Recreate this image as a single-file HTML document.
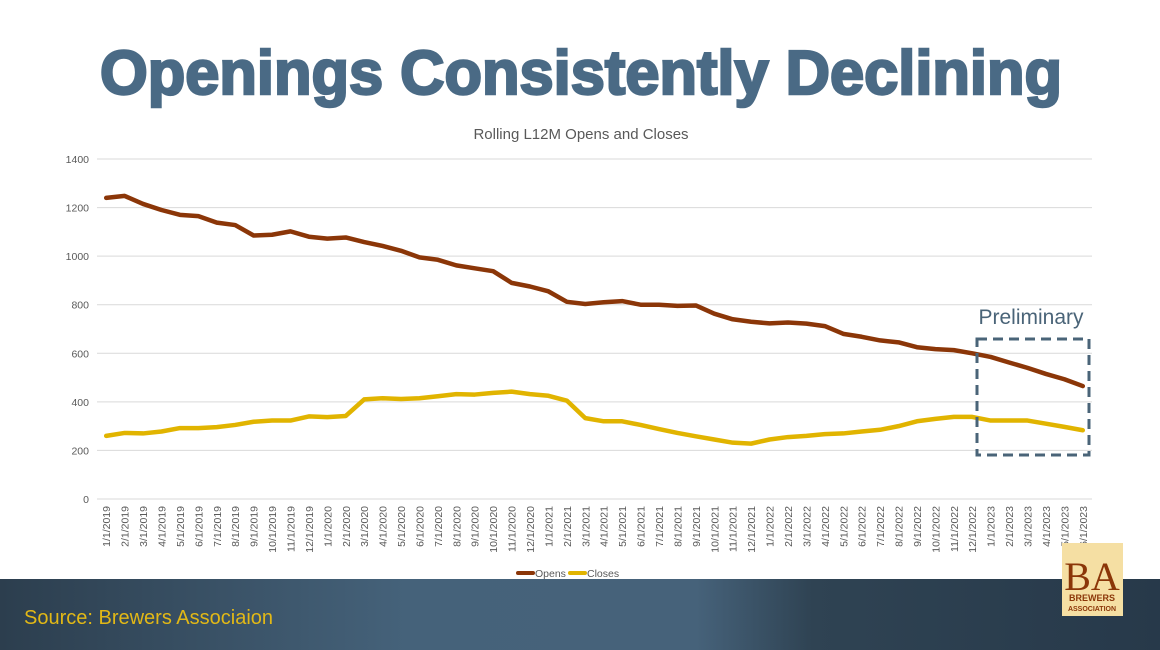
<!DOCTYPE html>
<html><head><meta charset="utf-8"><style>
html,body{margin:0;padding:0;background:#fff;}
svg{display:block;font-family:"Liberation Sans",Arial,sans-serif;}
</style></head><body>
<svg width="1160" height="650" viewBox="0 0 1160 650">
<defs>
<linearGradient id="bg" x1="0" x2="1" y1="0" y2="0">
<stop offset="0" stop-color="#2c3e4e"/><stop offset="0.35" stop-color="#45627a"/><stop offset="0.6" stop-color="#46627a"/><stop offset="0.7" stop-color="#2f4353"/><stop offset="1" stop-color="#27394a"/>
</linearGradient>
</defs>
<text x="581" y="94" text-anchor="middle" font-size="62" font-weight="900" fill="#4a6a85" stroke="#4a6a85" stroke-width="2.5" textLength="962" lengthAdjust="spacingAndGlyphs">Openings Consistently Declining</text>
<text x="581" y="139" text-anchor="middle" font-size="15" fill="#595959">Rolling L12M Opens and Closes</text>
<g id="grid"></g>
<g id="yt"></g>
<g id="xt"></g>
<g id="series"></g>
<rect x="977" y="339" width="112" height="116" fill="none" stroke="#4a6478" stroke-width="3" stroke-dasharray="10,6"/>
<text x="1031" y="324" text-anchor="middle" font-size="21" fill="#4a6478">Preliminary</text>
<g>
<line x1="518" y1="573" x2="533" y2="573" stroke="#8b3608" stroke-width="4" stroke-linecap="round"/>
<text x="535" y="577" font-size="10.5" fill="#595959">Opens</text>
<line x1="570" y1="573" x2="585" y2="573" stroke="#e1b400" stroke-width="4" stroke-linecap="round"/>
<text x="587" y="577" font-size="10.5" fill="#595959">Closes</text>
</g>
<rect x="0" y="579" width="1160" height="71" fill="url(#bg)"/>
<text x="24" y="624" font-size="20" fill="#e2b816">Source: Brewers Associaion</text>
<g>
<rect x="1062" y="543" width="61" height="73" fill="#f5dfa3"/>
<text x="1092" y="590" text-anchor="middle" font-size="40" font-family="Liberation Serif,serif" fill="#8b3608">BA</text>
<text x="1092" y="601" text-anchor="middle" font-size="9" font-weight="bold" fill="#8b3608">BREWERS</text>
<text x="1092" y="611" text-anchor="middle" font-size="7" font-weight="bold" fill="#8b3608">ASSOCIATION</text>
</g>
</svg>
<script>
const months = [];
for (let y = 2019; y <= 2023; y++) for (let m = 1; m <= 12; m++) { if (y === 2023 && m > 6) break; months.push(m + '/1/' + y); }
const opens = [1240,1248,1215,1190,1170,1165,1138,1128,1085,1088,1102,1080,
1072,1077,1058,1042,1022,995,985,962,950,938,890,875,
855,812,803,810,815,800,800,795,797,763,740,730,
723,727,722,712,680,668,653,645,625,617,613,600,
585,562,540,515,493,465];
const closes = [260,272,270,278,292,292,296,305,318,323,323,340,
337,342,410,415,412,415,423,432,430,437,442,432,
425,405,333,320,320,305,288,272,258,245,232,228,
245,255,260,267,270,278,285,300,320,330,338,338,
323,323,323,310,297,283];
const yTicks = [0,200,400,600,800,1000,1200,1400];
const NS = 'http://www.w3.org/2000/svg';
const x0 = 97, x1 = 1092, yB = 499, yT = 159;
const xs = i => x0 + (x1 - x0) / months.length * (i + 0.5);
const ys = v => yB - (v / 1400) * (yB - yT);
function mk(tag, attrs, parent) { const e = document.createElementNS(NS, tag); for (const k in attrs) e.setAttribute(k, attrs[k]); parent.appendChild(e); return e; }
const grid = document.getElementById('grid'), yt = document.getElementById('yt'), xt = document.getElementById('xt'), ser = document.getElementById('series');
yTicks.forEach(v => {
  const l = mk('line', {x1: x0, x2: x1, y1: ys(v), y2: ys(v), stroke: '#d9d9d9', 'stroke-width': 1}, grid);
  
  
  const t = mk('text', {x: 89, y: ys(v) + 4, 'text-anchor': 'end', 'font-size': 10.5, fill: '#595959'}, yt);
  t.textContent = v;
  
  
});
months.forEach((m, i) => {
  const x = xs(i) + 4;
  const t = mk('text', {x: x, y: 506, 'text-anchor': 'end', 'font-size': 10.5, fill: '#595959', transform: `rotate(-90 ${x} 506)`}, xt);
  t.textContent = m;
  
  
});
function line(vals, color, name) {
  const p = mk('polyline', {points: vals.map((v, i) => xs(i) + ',' + ys(v)).join(' '), fill: 'none', stroke: color, 'stroke-width': 4.5, 'stroke-linejoin': 'round', 'stroke-linecap': 'round'}, ser);
  
  
}
line(opens, '#8b3608', 'opens-line');
line(closes, '#e1b400', 'closes-line');
</script>
</body></html>
